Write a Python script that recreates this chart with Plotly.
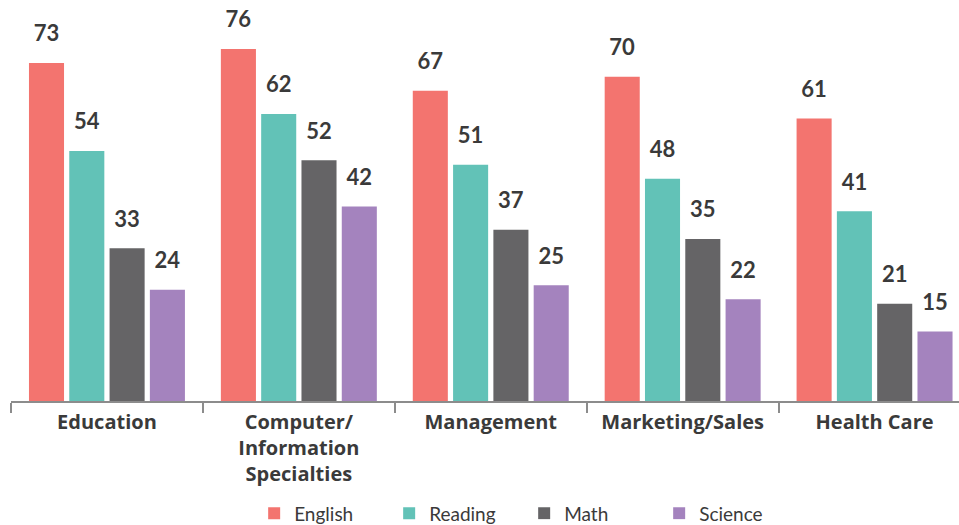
import plotly.graph_objects as go

categories = ["Education", "Computer/<br>Information<br>Specialties", "Management", "Marketing/Sales", "Health Care"]
english = [73, 76, 67, 70, 61]
reading = [54, 62, 51, 48, 41]
math_ = [33, 52, 37, 35, 21]
science = [24, 42, 25, 22, 15]

series = [
    ("English", english, "#F3746F"),
    ("Reading", reading, "#62C2B7"),
    ("Math", math_, "#656466"),
    ("Science", science, "#A483BE"),
]

FONT = "Lato"
TXT = "#3a3a3a"

fig = go.Figure()
for name, vals, col in series:
    fig.add_trace(go.Bar(
        x=categories, y=vals, name=name,
        marker=dict(color=col, line=dict(width=0)),
        text=vals, texttemplate="<span style='font-size:22px'>%{y}</span><br> ",
        textposition="outside", constraintext="none", cliponaxis=False,
        textfont=dict(family=FONT, size=12, color=TXT, weight="bold"),
    ))

fig.update_layout(
    width=959, height=525,
    margin=dict(l=11, r=0, t=0, b=124, autoexpand=False),
    paper_bgcolor="white", plot_bgcolor="white",
    barmode="group", bargap=0.16, bargroupgap=0.13,
    showlegend=True,
    legend=dict(orientation="h", x=0.2565, xanchor="left", y=-0.28, yanchor="middle",
                entrywidth=90, entrywidthmode="pixels",
                font=dict(family=FONT, size=19, color=TXT)),
    xaxis=dict(range=[-0.5, 4.44], showgrid=False, showline=True, linecolor="#8c8c8c", linewidth=2,
               automargin=False,
               ticks="outside", tickson="boundaries", ticklen=10, tickwidth=2, tickcolor="#8c8c8c",
               ticklabelstandoff=2,
               tickfont=dict(family="Open Sans", size=20, color=TXT, weight="bold")),
    yaxis=dict(range=[0, 86.6], visible=False, showgrid=False, zeroline=False, automargin=False),
)

fig.write_html("out.html", config={"displayModeBar": False},
               post_script="document.body.style.margin='0px';")
